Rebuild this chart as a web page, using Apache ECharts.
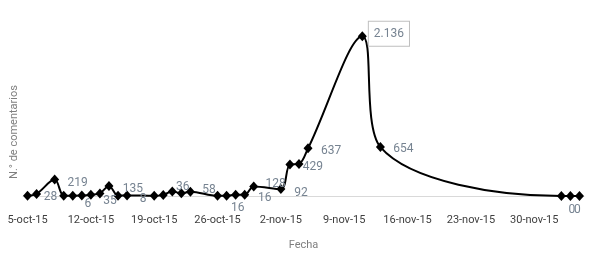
<!DOCTYPE html>
<html>
<head>
<meta charset="utf-8">
<script src="https://cdn.jsdelivr.net/npm/echarts@6/dist/echarts.min.js"></script>
<style>html,body{margin:0;padding:0;background:#fff;}#c{width:589px;height:260px;}</style>
</head>
<body>
<div id="c"></div>
<script>
// ---- data ----
const dates = ['2015-10-05','2015-10-06','2015-10-08','2015-10-09','2015-10-10','2015-10-11','2015-10-12','2015-10-13','2015-10-14','2015-10-15','2015-10-16','2015-10-19','2015-10-20','2015-10-21','2015-10-22','2015-10-23','2015-10-26','2015-10-27','2015-10-28','2015-10-29','2015-10-30','2015-11-02','2015-11-03','2015-11-04','2015-11-05','2015-11-11','2015-11-13','2015-12-03','2015-12-04','2015-12-05'];
const comments = [4,28,219,5,5,6,18,35,135,4,8,3,15,60,36,58,2,2,16,16,128,92,420,429,637,2136,654,0,0,0];
const labeledDates = ['2015-10-06','2015-10-08','2015-10-11','2015-10-13','2015-10-14','2015-10-16','2015-10-22','2015-10-23','2015-10-28','2015-10-29','2015-10-30','2015-11-02','2015-11-04','2015-11-05','2015-11-11','2015-11-13','2015-12-04','2015-12-05'];
const tickDates = ['2015-10-05','2015-10-12','2015-10-19','2015-10-26','2015-11-02','2015-11-09','2015-11-16','2015-11-23','2015-11-30'];
const tickLabels = ['5-oct-15','12-oct-15','19-oct-15','26-oct-15','2-nov-15','9-nov-15','16-nov-15','23-nov-15','30-nov-15'];
const xAxisTitle = 'Fecha';
const yAxisTitle = 'N.\u00b0 de comentarios';

// ---- label placement (style) ----
const labelOffsets = {
  '2015-10-06':[14,3], '2015-10-08':[23,3], '2015-10-11':[6,8], '2015-10-13':[10,7.5],
  '2015-10-14':[24,3], '2015-10-16':[16,4], '2015-10-22':[1.5,-6], '2015-10-23':[18.5,-1.7],
  '2015-10-28':[2,12.7], '2015-10-29':[20,3.5], '2015-10-30':[22,-2], '2015-11-02':[20,4],
  '2015-11-04':[14,3], '2015-11-05':[23,2.6], '2015-11-11':[26.6,-2.5], '2015-11-13':[23,2.4],
  '2015-12-04':[1.5,13.7], '2015-12-05':[-2,13.7]
};

// day number since the first date (x axis is in days)
function dayNum(s){ const p = s.split('-').map(Number); return Math.round((Date.UTC(p[0], p[1]-1, p[2]) - Date.UTC(2015, 9, 5)) / 86400000); }
const tickDays = tickDates.map(dayNum);
function fmt(v){ return String(v).replace(/\B(?=(\d{3})+(?!\d))/g, '.'); }

const peak = Math.max.apply(null, comments);
const seriesData = dates.map(function(d, i){
  const item = { value: [dayNum(d), comments[i]] };
  if (labeledDates.indexOf(d) >= 0) {
    const lab = { show: true, position: 'inside', offset: labelOffsets[d], formatter: function(p){ return fmt(p.value[1]); } };
    if (comments[i] === peak) {
      lab.backgroundColor = '#ffffff'; lab.borderColor = '#bfbfbf'; lab.borderWidth = 1; lab.padding = [6, 5];
    }
    item.label = lab;
  }
  return item;
});

const chart = echarts.init(document.getElementById('c'), null, { renderer: 'canvas' });
chart.setOption({
  animation: false,
  backgroundColor: '#ffffff',
  textStyle: { fontFamily: 'Roboto' },
  grid: { left: 23, right: 5, top: 9, bottom: 64 },
  xAxis: {
    type: 'value',
    min: dayNum(dates[0]) - 0.5,
    max: dayNum(dates[dates.length-1]) + 0.5,
    axisLine: { show: true, onZero: false, lineStyle: { color: '#d9d9d9', width: 1 } },
    axisTick: { show: false },
    splitLine: { show: false },
    axisLabel: {
      customValues: tickDays,
      margin: 19,
      color: '#404040',
      fontSize: 11,
      fontFamily: 'Roboto',
      showMinLabel: true,
      showMaxLabel: true,
      formatter: function(v){ const k = tickDays.indexOf(Math.round(v)); return k >= 0 ? tickLabels[k] : ''; }
    },
    name: xAxisTitle,
    nameLocation: 'middle',
    nameGap: 44,
    nameTextStyle: { color: '#7f7f7f', fontSize: 11, fontFamily: 'Roboto' }
  },
  yAxis: {
    type: 'value', min: 0, max: 2500, show: false
  },
  graphic: [{
    type: 'text', x: 14, y: 132, rotation: Math.PI/2,
    style: { text: yAxisTitle, fill: '#7f7f7f', font: '11px Roboto', align: 'center', verticalAlign: 'middle' }
  }],
  series: [{
    type: 'line',
    data: seriesData,
    smooth: 0.35,
    symbol: 'diamond',
    symbolSize: [9, 10],
    itemStyle: { color: '#000000' },
    lineStyle: { color: '#000000', width: 2 },
    label: { color: '#768391', fontSize: 12, fontFamily: 'Roboto' }
  }]
});
</script>
</body>
</html>
